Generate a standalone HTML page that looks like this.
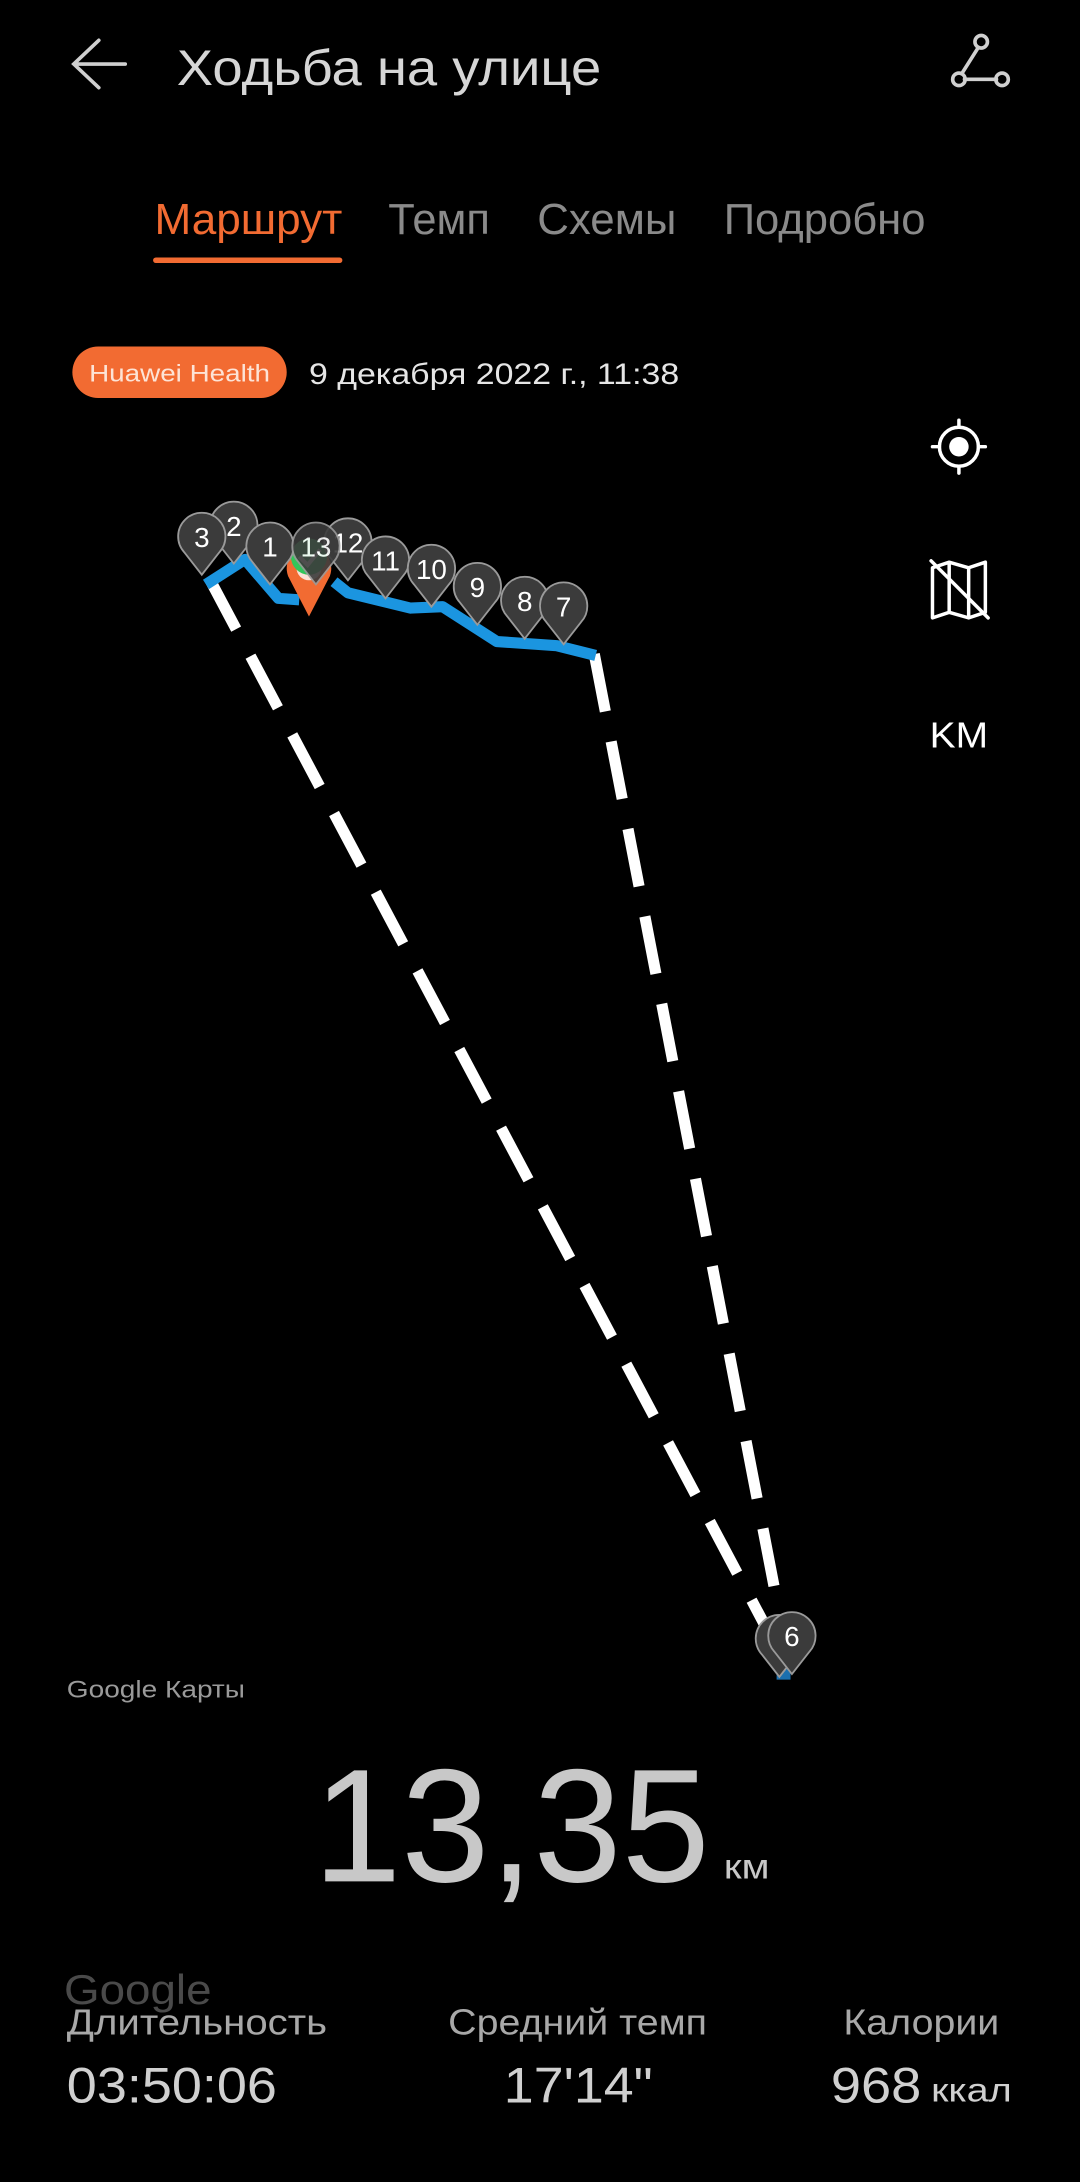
<!DOCTYPE html>
<html><head><meta charset="utf-8"><style>
html,body{margin:0;padding:0;background:#000;}
svg{display:block;}
text{font-family:"Liberation Sans",sans-serif;}
</style></head><body>
<svg width="1080" height="2182" viewBox="0 0 776 1568" preserveAspectRatio="none" xmlns="http://www.w3.org/2000/svg">
<rect width="776" height="1568" fill="#000"/>
<!-- header -->
<g stroke="#d0d0d0" stroke-width="2.6" fill="none" stroke-linecap="round">
<path d="M90 46 H54 M71 29 L53 46 L71 63"/>
<path d="M703 34 L691 53 M693 57 H716"/>
<circle cx="705" cy="30" r="4.5"/><circle cx="689" cy="57" r="4.5"/><circle cx="720" cy="57" r="4.5"/>
</g>
<text x="127" y="61" font-size="36" fill="#d6d6d6" textLength="305" lengthAdjust="spacingAndGlyphs">Ходьба на улице</text>
<!-- tabs -->
<text x="111" y="168" font-size="31" fill="#f26b32" textLength="135" lengthAdjust="spacingAndGlyphs">Маршрут</text>
<text x="279" y="168" font-size="31" fill="#8a8a8a" textLength="73" lengthAdjust="spacingAndGlyphs">Темп</text>
<text x="386" y="168" font-size="31" fill="#8a8a8a" textLength="100" lengthAdjust="spacingAndGlyphs">Схемы</text>
<text x="520" y="168" font-size="31" fill="#8a8a8a" textLength="145" lengthAdjust="spacingAndGlyphs">Подробно</text>
<rect x="110" y="185" width="136" height="4" rx="2" fill="#f26b32"/>
<!-- badge -->
<rect x="52" y="249" width="154" height="37" rx="18.5" fill="#f26b32"/>
<text x="64" y="274" font-size="17" fill="#fde3d6" textLength="130" lengthAdjust="spacingAndGlyphs">Huawei Health</text>
<text x="222" y="276" font-size="21" fill="#e6e6e6" textLength="266" lengthAdjust="spacingAndGlyphs">9 декабря 2022 г., 11:38</text>
<!-- right icons -->
<g stroke="#fff" stroke-width="2.5" fill="none" stroke-linecap="round" stroke-linejoin="round">
<circle cx="689" cy="321" r="14"/>
<path d="M689 302 V307 M689 335 V340 M670 321 H675 M703 321 H708"/>
<path d="M670 408 L682 404 L696 408 L708 404 V440 L696 444 L682 440 L670 444 Z M682 404 V440 M696 408 V444"/>
<path d="M669 403 L710 444"/>
</g>
<circle cx="689" cy="321" r="7" fill="#fff"/>
<text x="668" y="537" font-size="26" fill="#fff" textLength="42" lengthAdjust="spacingAndGlyphs">KM</text>
<!-- dashed lines -->
<g stroke="#fff" stroke-width="8" fill="none" stroke-dasharray="42 22">
<path d="M150 415 L556 1180"/>
<path d="M427 470 L561 1165"/>
</g>
<!-- blue route -->
<path d="M148 420 L176 402 L200 430 L215 431 M240 418 L250 426 L295 437 L318 436 L357 461 L400 464 L428 471" stroke="#1b95e0" stroke-width="8" fill="none" stroke-linejoin="round"/>
<!-- orange pin + green -->
<path d="M207 414 A16 16 0 1 1 237 414 L222 443 Z" fill="#f26b32"/>
<circle cx="222" cy="408" r="9" fill="#fff" opacity="0.8"/>
<circle cx="222" cy="400" r="13" fill="#32c55a"/>
<path d="M215 400 L221 406 L230 395" stroke="#fff" stroke-width="3" fill="none"/>
<!-- markers -->
<defs>
<path id="m" d="M-12.5 11 A17 17 0 1 1 12.5 11 L0 27 Z" fill="#3b3b3b" stroke="#9a9a9a" stroke-width="1.3"/>
</defs>
<g font-size="20" fill="#fff" text-anchor="middle">
<g transform="translate(168,378)"><use href="#m"/><text y="7">2</text></g>
<g transform="translate(145,386)"><use href="#m"/><text y="7">3</text></g>
<g transform="translate(250,390)"><use href="#m"/><text y="7">12</text></g>
<g transform="translate(277,403)"><use href="#m"/><text y="7">11</text></g>
<g transform="translate(310,409)"><use href="#m"/><text y="7">10</text></g>
<g transform="translate(343,422)"><use href="#m"/><text y="7">9</text></g>
<g transform="translate(377,432)"><use href="#m"/><text y="7">8</text></g>
<g transform="translate(405,436)"><use href="#m"/><text y="7">7</text></g>
<g transform="translate(194,393)"><use href="#m"/><text y="7">1</text></g>
<g transform="translate(227,393)" opacity="0.9"><use href="#m"/><text y="7">13</text></g>
<rect x="558" y="1198" width="10" height="9" fill="#1b6fae"/>
<g transform="translate(560,1178)"><use href="#m"/><text y="7" fill="#666">5</text></g>
<g transform="translate(569,1176)"><use href="#m"/><text y="7">6</text></g>
</g>
<!-- bottom -->
<text x="48" y="1220" font-size="17" fill="#9a9a9a" textLength="128" lengthAdjust="spacingAndGlyphs">Google Карты</text>
<text x="225" y="1352" font-size="116" fill="#c8c8c8" textLength="285" lengthAdjust="spacingAndGlyphs">13,35</text>
<text x="520" y="1350" font-size="25" fill="#c8c8c8" textLength="33" lengthAdjust="spacingAndGlyphs">км</text>
<text x="46" y="1440" font-size="30" fill="#4a4a4a" textLength="106" lengthAdjust="spacingAndGlyphs">Google</text>
<g font-size="26" fill="#a8a8a8">
<text x="48" y="1462" textLength="187" lengthAdjust="spacingAndGlyphs">Длительность</text>
<text x="322" y="1462" textLength="186" lengthAdjust="spacingAndGlyphs">Средний темп</text>
<text x="606" y="1462" textLength="112" lengthAdjust="spacingAndGlyphs">Калории</text>
</g>
<g font-size="36" fill="#d0d0d0">
<text x="48" y="1511" textLength="151" lengthAdjust="spacingAndGlyphs">03:50:06</text>
<text x="362" y="1511" textLength="107" lengthAdjust="spacingAndGlyphs">17'14"</text>
<text x="597" y="1511" textLength="65" lengthAdjust="spacingAndGlyphs">968</text>
</g>
<text x="669" y="1510" font-size="24" fill="#d0d0d0" textLength="58" lengthAdjust="spacingAndGlyphs">ккал</text>
</svg>
</body></html>
